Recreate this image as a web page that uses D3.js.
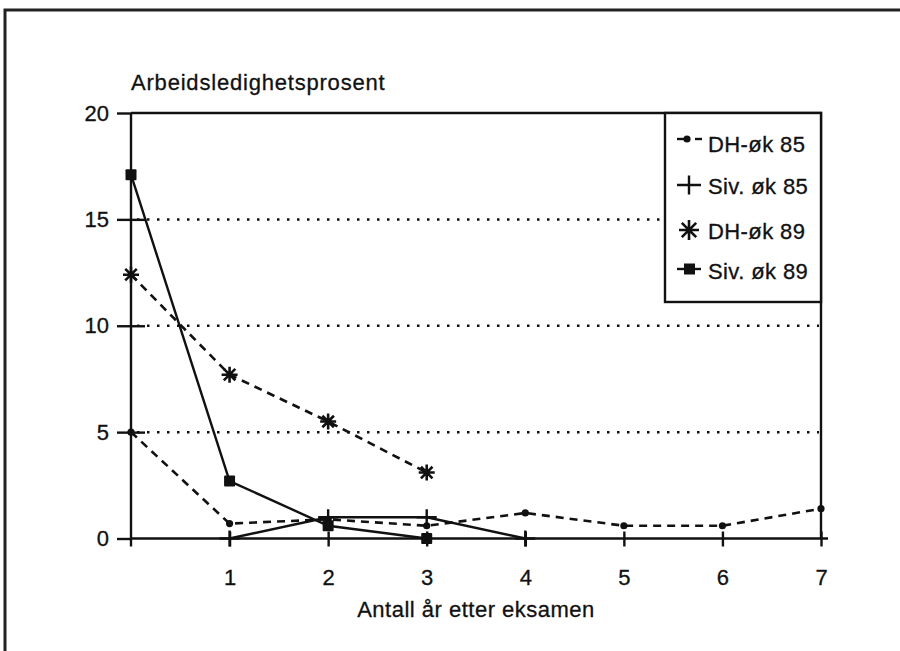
<!DOCTYPE html>
<html>
<head>
<meta charset="utf-8">
<script src="https://cdn.jsdelivr.net/npm/d3@7"></script>
<style>
  html, body { margin: 0; padding: 0; background: #fff; }
  svg { display: block; }
  text { font-family: "Liberation Sans", Arial, Helvetica, sans-serif; fill: #111; stroke: #111; stroke-width: 0.3px; }
</style>
</head>
<body>
<svg id="chart" width="900" height="651"></svg>
<script>
// ---- data ----
const years = [0, 1, 2, 3, 4, 5, 6, 7];
const dhOk85 = [5.0, 0.7, 0.9, 0.6, 1.2, 0.6, 0.6, 1.4];
const sivOk85Years = [1, 2, 3, 4];
const sivOk85 = [0, 1.0, 1.0, 0];
const ok89Years = [0, 1, 2, 3];
const dhOk89 = [12.4, 7.7, 5.5, 3.1];
const sivOk89 = [17.1, 2.7, 0.6, 0];
const yTicks = [0, 5, 10, 15, 20];
const xTicks = [1, 2, 3, 4, 5, 6, 7];
const gridValues = [5, 10, 15];
const seriesNames = ["DH-øk 85", "Siv. øk 85", "DH-øk 89", "Siv. øk 89"];
const yTitle = "Arbeidsledighetsprosent";
const xTitle = "Antall år etter eksamen";

// ---- layout ----
const svg = d3.select("#chart");
const x = d3.scaleLinear().domain([0, 7]).range([131, 821]);
const y = d3.scaleLinear().domain([0, 20]).range([538.5, 113]);
const ink = "#111";
const sw = 2.4;
const fs = 22;

// outer frame (extends beyond the visible picture on right/bottom)
svg.append("path")
  .attr("d", "M5,700 L5,10 L920,10")
  .attr("fill", "none").attr("stroke", "#222").attr("stroke-width", 3);

// dotted gridlines
svg.append("g").selectAll("line").data(gridValues).join("line")
  .attr("x1", x(0) + 6).attr("x2", x(7) - 2)
  .attr("y1", d => y(d)).attr("y2", d => y(d))
  .attr("stroke", ink).attr("stroke-width", 2.5)
  .attr("stroke-dasharray", "2.5,7.5");

// plot frame: top and right
svg.append("path")
  .attr("d", `M${x(0)},${y(20)} L${x(7)},${y(20)} L${x(7)},${y(0)}`)
  .attr("fill", "none").attr("stroke", ink).attr("stroke-width", sw);

// y axis
const yAxis = d3.axisLeft(y).tickValues(yTicks).tickSize(14).tickPadding(8).tickFormat(d3.format("d"));
const gy = svg.append("g").attr("transform", `translate(${x(0)},0)`).call(yAxis);
gy.select(".domain").remove();
gy.append("line").attr("x1", 0).attr("x2", 0).attr("y1", y(20)).attr("y2", y(0) + 8)
  .attr("stroke", ink).attr("stroke-width", sw);
gy.selectAll(".tick line").attr("stroke", ink).attr("stroke-width", sw)
  .attr("x1", d => (d === 0 || d === 20) ? 0 : 14);
gy.selectAll(".tick text").attr("font-size", fs).attr("fill", ink)
  .attr("font-family", "Liberation Sans, Arial, sans-serif");

// x axis
const xAxis = d3.axisBottom(x).tickValues(xTicks).tickSize(8).tickPadding(23).tickFormat(d3.format("d"));
const gx = svg.append("g").attr("transform", `translate(0,${y(0)})`).call(xAxis);
gx.select(".domain").remove();
gx.append("line").attr("x1", x(0)).attr("x2", x(7) + 7).attr("y1", 0).attr("y2", 0)
  .attr("stroke", ink).attr("stroke-width", sw);
gx.selectAll(".tick line").attr("stroke", ink).attr("stroke-width", sw).attr("y1", -7);
gx.selectAll(".tick text").attr("font-size", fs).attr("fill", ink)
  .attr("font-family", "Liberation Sans, Arial, sans-serif");

// titles
svg.append("text").attr("x", 131).attr("y", 90)
  .attr("font-size", fs).attr("letter-spacing", "0.8px").text(yTitle);
svg.append("text").attr("x", 476).attr("y", 617).attr("text-anchor", "middle")
  .attr("font-size", fs).attr("letter-spacing", "0.5px").text(xTitle);

// ---- symbols ----
const asterisk = {
  draw(ctx, size) {
    const r = Math.sqrt(size) / 2, d = r * 0.72;
    ctx.moveTo(-r, 0); ctx.lineTo(r, 0);
    ctx.moveTo(0, -r); ctx.lineTo(0, r);
    ctx.moveTo(-d, -d); ctx.lineTo(d, d);
    ctx.moveTo(-d, d); ctx.lineTo(d, -d);
  }
};
const plus = {
  draw(ctx, size) {
    const r = Math.sqrt(size) / 2;
    ctx.moveTo(-r, 0); ctx.lineTo(r, 0);
    ctx.moveTo(0, -r * 0.8); ctx.lineTo(0, r * 0.8);
  }
};

const line = d3.line().x(d => x(d[0])).y(d => y(d[1]));

// DH-øk 85
const d85 = years.map((yr, i) => [yr, dhOk85[i]]);
svg.append("path").attr("d", line(d85)).attr("fill", "none")
  .attr("stroke", ink).attr("stroke-width", 2.6).attr("stroke-dasharray", "8,6");
svg.append("g").selectAll("circle").data(d85).join("circle")
  .attr("cx", d => x(d[0])).attr("cy", d => y(d[1])).attr("r", 3.6).attr("fill", ink);

// Siv. øk 85
const s85 = sivOk85Years.map((yr, i) => [yr, sivOk85[i]]);
svg.append("path").attr("d", line(s85)).attr("fill", "none")
  .attr("stroke", ink).attr("stroke-width", sw);
svg.append("g").selectAll("path").data(s85).join("path")
  .attr("transform", d => `translate(${x(d[0])},${y(d[1])})`)
  .attr("d", d3.symbol().type(plus).size(400))
  .attr("fill", "none").attr("stroke", ink).attr("stroke-width", sw);

// DH-øk 89
const d89 = ok89Years.map((yr, i) => [yr, dhOk89[i]]);
svg.append("path").attr("d", line(d89)).attr("fill", "none")
  .attr("stroke", ink).attr("stroke-width", 2.6).attr("stroke-dasharray", "8,6");
svg.append("g").selectAll("path").data(d89).join("path")
  .attr("transform", d => `translate(${x(d[0])},${y(d[1])})`)
  .attr("d", d3.symbol().type(asterisk).size(256))
  .attr("fill", "none").attr("stroke", ink).attr("stroke-width", 2.6);

// Siv. øk 89
const s89 = ok89Years.map((yr, i) => [yr, sivOk89[i]]);
svg.append("path").attr("d", line(s89)).attr("fill", "none")
  .attr("stroke", ink).attr("stroke-width", sw);
svg.append("g").selectAll("rect").data(s89).join("rect")
  .attr("x", d => x(d[0]) - 5.5).attr("y", d => y(d[1]) - 5.5)
  .attr("width", 11).attr("height", 11).attr("rx", 1).attr("fill", ink);

// ---- legend ----
const lg = svg.append("g");
lg.append("rect").attr("x", 665).attr("y", 113).attr("width", 156).attr("height", 189)
  .attr("fill", "#fff").attr("stroke", ink).attr("stroke-width", sw);
const rowsY = [152, 194, 239, 279];
const symX = 689;
rowsY.forEach((by, i) => {
  lg.append("text").attr("x", 708).attr("y", by).attr("font-size", fs)
    .attr("letter-spacing", "0.4px").text(seriesNames[i]);
});
// DH-øk 85 symbol
const cy0 = rowsY[0] - 13;
lg.append("line").attr("x1", 677).attr("x2", 690).attr("y1", cy0).attr("y2", cy0)
  .attr("stroke", ink).attr("stroke-width", sw);
lg.append("line").attr("x1", 695).attr("x2", 702).attr("y1", cy0).attr("y2", cy0)
  .attr("stroke", ink).attr("stroke-width", sw);
lg.append("circle").attr("cx", 687).attr("cy", cy0).attr("r", 3.6).attr("fill", ink);
// Siv. øk 85 symbol
lg.append("path").attr("transform", `translate(${symX},${rowsY[1] - 9})`)
  .attr("d", d3.symbol().type(plus).size(576))
  .attr("fill", "none").attr("stroke", ink).attr("stroke-width", sw);
// DH-øk 89 symbol
lg.append("path").attr("transform", `translate(${symX},${rowsY[2] - 9})`)
  .attr("d", d3.symbol().type(asterisk).size(400))
  .attr("fill", "none").attr("stroke", ink).attr("stroke-width", 2.6);
// Siv. øk 89 symbol
const cy3 = rowsY[3] - 10;
lg.append("line").attr("x1", 677).attr("x2", 701).attr("y1", cy3).attr("y2", cy3)
  .attr("stroke", ink).attr("stroke-width", sw);
lg.append("rect").attr("x", 684).attr("y", cy3 - 5.5).attr("width", 11).attr("height", 11)
  .attr("fill", ink);
</script>
</body>
</html>
